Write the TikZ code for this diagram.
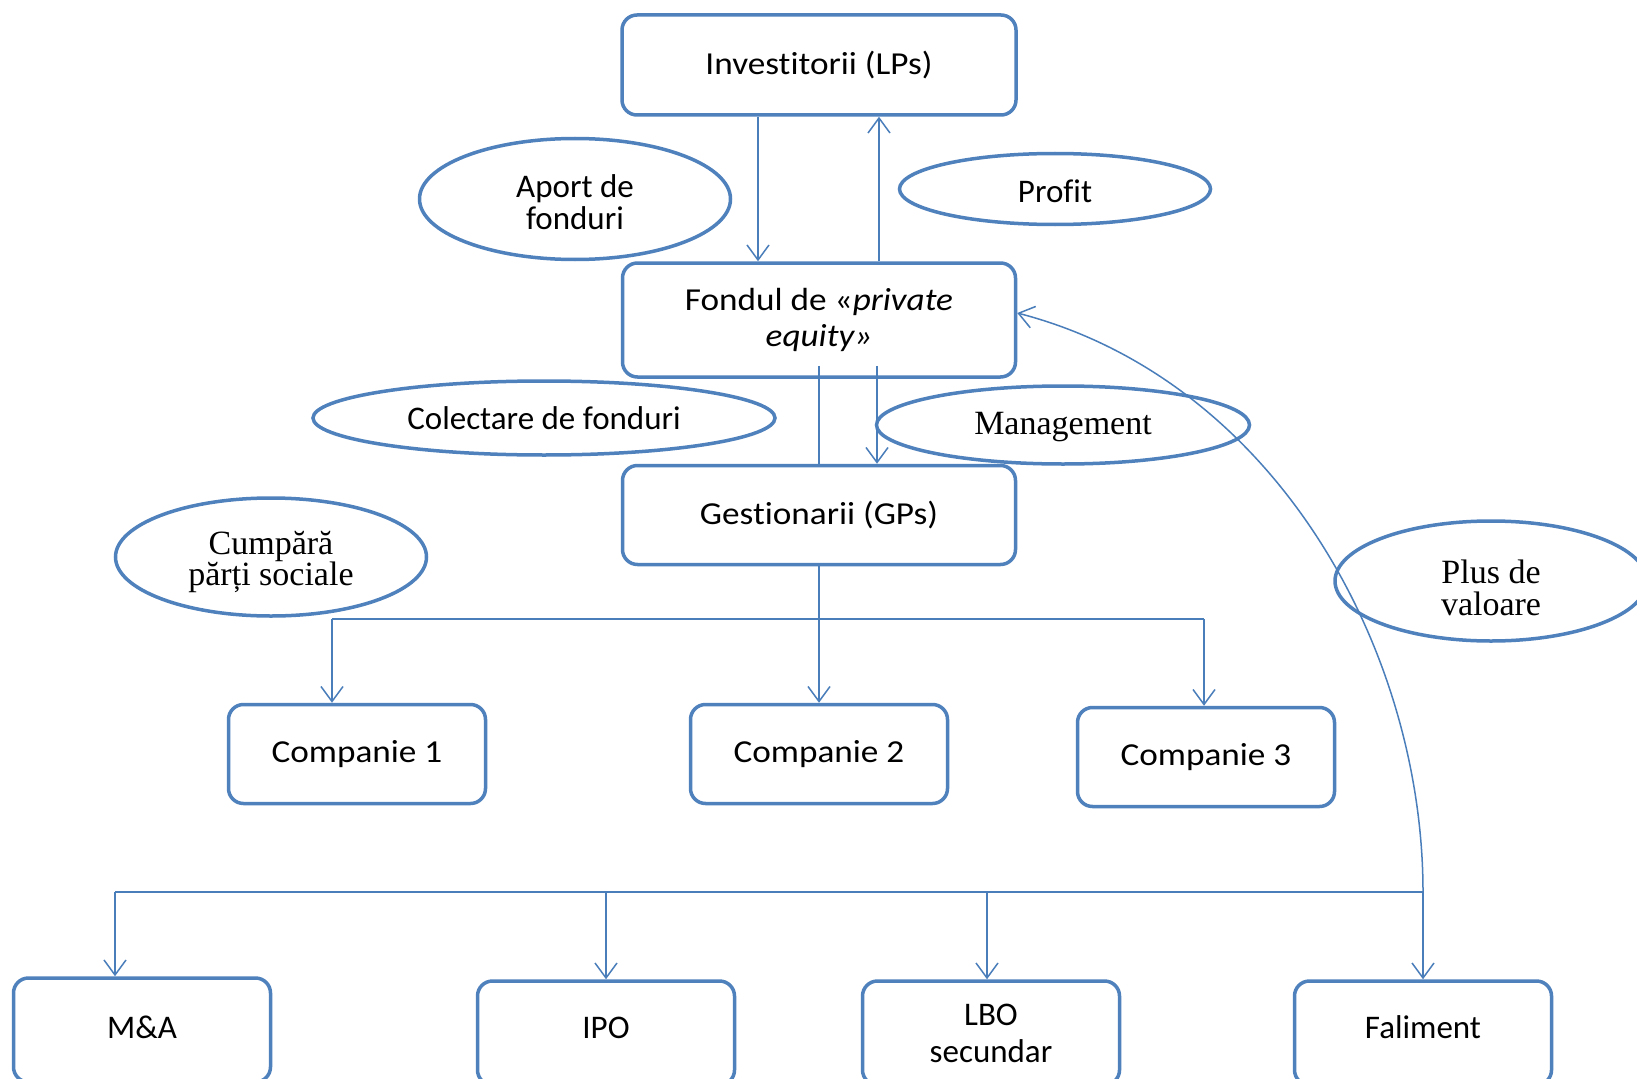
\documentclass[tikz,border=0pt]{standalone}
\usepackage{fontspec}
\setmainfont[Ligatures=NoCommon]{Carlito}
\newfontfamily\boxfont[FakeStretch=1.1,Ligatures=NoCommon]{Carlito}
\newfontfamily\seriffont{Liberation Serif}
\usetikzlibrary{arrows.meta,shapes.geometric,calc}
\definecolor{boxblue}{HTML}{4F81BD}
\definecolor{lineblue}{HTML}{4A7EBB}
\begin{document}
\begin{tikzpicture}[x=1pt,y=-1pt,
  bigbox/.style={draw=boxblue,line width=3.5pt,rounded corners=15pt,inner sep=0pt,align=center,
    font=\boxfont\fontsize{32}{36}\selectfont},
  endbox/.style={draw=boxblue,line width=3.5pt,rounded corners=15pt,inner sep=0pt,align=center,
    minimum width=257pt,minimum height=104pt,font=\fontsize{33}{37}\selectfont},
  ell/.style={draw=boxblue,line width=3.5pt,ellipse,inner sep=0pt},
  sanstxt/.style={align=center,inner sep=0pt,font=\fontsize{33}{32}\selectfont},
  seriftxt/.style={align=center,inner sep=0pt,font=\seriffont\fontsize{34}{32}\selectfont},
  conn/.style={draw=lineblue,line width=1.5pt},
  arr/.style={conn,-{Straight Barb[length=15pt,width=22pt]}}]
\useasboundingbox (0,0) rectangle (1637,1078);
\clip (0,0) rectangle (1637,1078);
\fill[white] (0,0) rectangle (1637,1078);

% boxes
\node[bigbox,minimum width=394pt,minimum height=100pt] (inv) at (819,65) {Investitorii (LPs)};
\node[bigbox,minimum width=393pt,minimum height=114pt] (fond) at (819,320) {Fondul de «\textit{private}\\\textit{equity»}};
\node[bigbox,minimum width=393pt,minimum height=99pt] (gest) at (819,515) {Gestionarii (GPs)};
\node[bigbox,minimum width=257pt,minimum height=99pt] (c1) at (357,754) {Companie 1};
\node[bigbox,minimum width=257pt,minimum height=99pt] (c2) at (819,754) {Companie 2};
\node[bigbox,minimum width=257pt,minimum height=99pt] (c3) at (1206,757) {Companie 3};
\node[endbox] (ma) at (142,1030) {\raisebox{6pt}{M\&A}};
\node[endbox] (ipo) at (606,1033) {\raisebox{11pt}{IPO}};
\node[endbox] (lbo) at (991,1033) {LBO\\secundar};
\node[endbox] (fal) at (1423,1033) {\raisebox{11pt}{Faliment}};

% ellipses
\node[ell,minimum width=311pt,minimum height=121pt] (aport) at (575,199) {};
\node[sanstxt] (aportT) at ([yshift=-3pt]aport.center) {Aport de\\fonduri};
\node[ell,minimum width=311pt,minimum height=71pt] (profit) at (1055,189) {};
\node[sanstxt] (profitT) at ([yshift=-2pt]profit.center) {Profit};
\node[ell,minimum width=462pt,minimum height=74pt] (colect) at (544,418) {};
\node[sanstxt] (colectT) at (colect.center) {Colectare de fonduri};
\node[ell,minimum width=373pt,minimum height=78pt] (mgmt) at (1063,425) {};
\node[seriftxt] (mgmtT) at ([yshift=-2pt]mgmt.center) {Management};
\node[ell,minimum width=311pt,minimum height=118pt] (cump) at (271,557) {};
\node[seriftxt] (cumpT) at ([yshift=-5pt]cump.center) {Cumpără\\părți sociale};
\node[ell,minimum width=312pt,minimum height=120pt] (plus) at (1491,581) {};
\node[seriftxt] (plusT) at ([yshift=-7pt]plus.center) {Plus de\\valoare};

% connectors top
\draw[arr] ([xshift=-61pt]inv.south) -- ([xshift=-61pt]fond.north);
\draw[arr] ([xshift=60pt]fond.north) -- ([xshift=60pt]inv.south);
\draw[conn] ([yshift=13pt]fond.south) -- (gest.north);
\draw[arr] ([xshift=58pt,yshift=13pt]fond.south) -- ([xshift=58pt]gest.north);

% companies
\coordinate (bL) at (332,619);
\coordinate (bR) at (1204,619);
\draw[conn] (bL) -- (bR);
\draw[arr] (gest.south) -- (c2.north);
\draw[arr] (bL) -- (bL |- c1.north);
\draw[arr] (bR) -- (bR |- c3.north);

% exits
\coordinate (eL) at (115,892);
\coordinate (eR) at (1423,892);
\draw[conn] (eL) -- (eR);
\draw[arr] (eL) -- (eL |- ma.north);
\draw[arr] (ipo.north |- eL) -- (ipo.north);
\draw[arr] ([xshift=-4pt]lbo.north |- eL) -- ([xshift=-4pt]lbo.north);
\draw[arr] (eR) -- (eR |- fal.north);

% value curve
\draw[arr] (eR) .. controls (1423,650) and (1275,380) .. ([yshift=7pt]fond.east);
\end{tikzpicture}
\end{document}
